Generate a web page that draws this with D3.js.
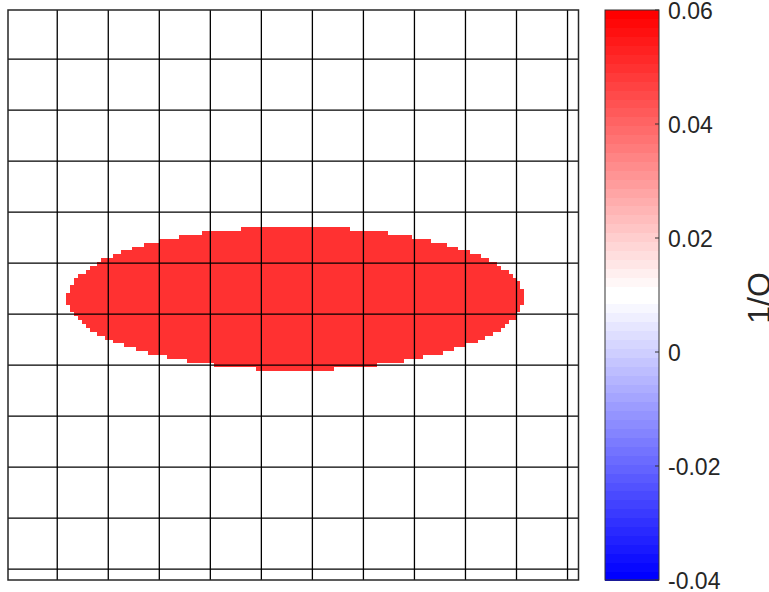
<!DOCTYPE html>
<html lang="en">
<head>
    <meta charset="UTF-8">
    <title>1/Q map</title>
    <style>
        * { margin: 0; padding: 0; box-sizing: border-box; }
        body { background: #fff; width: 769px; height: 592px; overflow: hidden; }
        svg { display: block; font-family: 'Liberation Sans', Arial, sans-serif; }
        .cb-label { fill: #262626; font-size: 23px; }
        .cb-title { fill: #262626; font-size: 32px; }
    </style>
</head>
<body>
    <div id="chart"></div>

    <script src="https://d3js.org/d3.v7.min.js"></script>
    <script>
        // axis limits and mesh lines (grid units)
        const xLimits = [0.035, 11.215];
        const yLimits = [0.035, 11.215];
        const meshX = [1, 2, 3, 4, 5, 6, 7, 8, 9, 10, 11];
        const meshY = [1, 2, 3, 4, 5, 6, 7, 8, 9, 10, 11];

        // raster resolution of the 1/Q field
        const rasterCells = 147;

        // 1/Q values: background and elliptic anomaly
        const backgroundQ = 0.01;
        const anomalyQ = 0.05;
        const anomalyCenter = [5.67, 5.69];
        const anomalyRadii = [4.47, 1.4];

        // colour bar
        const colorLimits = [-0.04, 0.06];
        const colorTicks = [-0.04, -0.02, 0, 0.02, 0.04, 0.06];
        const colorTickLabels = ["-0.04", "-0.02", "0", "0.02", "0.04", "0.06"];
        const colorLevels = 64;
        const colorTitle = "1/Q";

        const W = 769, H = 592;
        const plot = { left: 8, right: 578.5, top: 10, bottom: 580 };
        const cbar = { left: 605, right: 659, top: 10, bottom: 580 };

        const svg = d3.select("#chart").append("svg")
            .attr("width", W)
            .attr("height", H);

        const x = d3.scaleLinear().domain(xLimits).range([plot.left, plot.right]);
        const y = d3.scaleLinear().domain(yLimits).range([plot.top, plot.bottom]);

        // blue-white-red colormap, 64 levels, white in the two middle entries
        const half = colorLevels / 2;
        const cmap = d3.range(colorLevels).map(i => {
            if (i < half) {
                const s = i / (half - 1);
                return d3.rgb(255 * s, 255 * s, 255).formatHex();
            }
            const s = (i - half) / (half - 1);
            return d3.rgb(255, 255 * (1 - s), 255 * (1 - s)).formatHex();
        });
        const color = d3.scaleQuantize().domain(colorLimits).range(cmap);

        // build the field cell by cell, run-length merged per row
        const cellW = (xLimits[1] - xLimits[0]) / rasterCells;
        const cellH = (yLimits[1] - yLimits[0]) / rasterCells;
        const runs = [];
        for (let r = 0; r < rasterCells; r++) {
            const yc = yLimits[0] + (r + 0.5) * cellH;
            let start = 0, prev = null;
            for (let c = 0; c <= rasterCells; c++) {
                let v = null;
                if (c < rasterCells) {
                    const xc = xLimits[0] + (c + 0.5) * cellW;
                    const dx = (xc - anomalyCenter[0]) / anomalyRadii[0];
                    const dy = (yc - anomalyCenter[1]) / anomalyRadii[1];
                    v = dx * dx + dy * dy <= 1 ? anomalyQ : backgroundQ;
                }
                if (v !== prev) {
                    if (prev !== null) runs.push({ r, c0: start, c1: c, v: prev });
                    start = c;
                    prev = v;
                }
            }
        }

        svg.append("g")
            .attr("shape-rendering", "crispEdges")
            .selectAll("rect")
            .data(runs)
            .enter()
            .append("rect")
            .attr("x", d => x(xLimits[0] + d.c0 * cellW))
            .attr("y", d => y(yLimits[0] + d.r * cellH))
            .attr("width", d => x(xLimits[0] + d.c1 * cellW) - x(xLimits[0] + d.c0 * cellW) + 0.3)
            .attr("height", d => y(yLimits[0] + (d.r + 1) * cellH) - y(yLimits[0] + d.r * cellH) + 0.3)
            .attr("fill", d => color(d.v));

        // mesh lines
        const mesh = svg.append("g").attr("stroke", "#000").attr("stroke-width", 1.3);
        mesh.selectAll(".vx")
            .data(meshX)
            .enter()
            .append("line")
            .attr("x1", d => x(d)).attr("x2", d => x(d))
            .attr("y1", plot.top).attr("y2", plot.bottom);
        mesh.selectAll(".hy")
            .data(meshY)
            .enter()
            .append("line")
            .attr("y1", d => y(d)).attr("y2", d => y(d))
            .attr("x1", plot.left).attr("x2", plot.right);

        // axes box
        svg.append("rect")
            .attr("x", plot.left)
            .attr("y", plot.top)
            .attr("width", plot.right - plot.left)
            .attr("height", plot.bottom - plot.top)
            .attr("fill", "none")
            .attr("stroke", "#262626")
            .attr("stroke-width", 1.5);

        // colour bar
        const c = d3.scaleLinear().domain(colorLimits).range([cbar.bottom, cbar.top]);
        const step = (colorLimits[1] - colorLimits[0]) / colorLevels;
        svg.append("g")
            .attr("shape-rendering", "crispEdges")
            .selectAll("rect")
            .data(cmap)
            .enter()
            .append("rect")
            .attr("x", cbar.left)
            .attr("width", cbar.right - cbar.left)
            .attr("y", (d, i) => c(colorLimits[0] + (i + 1) * step))
            .attr("height", (d, i) => c(colorLimits[0] + i * step) - c(colorLimits[0] + (i + 1) * step) + 0.5)
            .attr("fill", d => d);

        svg.append("rect")
            .attr("x", cbar.left)
            .attr("y", cbar.top)
            .attr("width", cbar.right - cbar.left)
            .attr("height", cbar.bottom - cbar.top)
            .attr("fill", "none")
            .attr("stroke", "#333")
            .attr("stroke-width", 1);

        const cbTicks = svg.append("g");
        cbTicks.selectAll("line")
            .data(colorTicks)
            .enter()
            .append("line")
            .attr("x1", cbar.right - 4).attr("x2", cbar.right)
            .attr("y1", d => c(d)).attr("y2", d => c(d))
            .attr("stroke", "#333");
        cbTicks.selectAll("text")
            .data(colorTicks)
            .enter()
            .append("text")
            .attr("class", "cb-label")
            .attr("x", cbar.right + 9)
            .attr("y", d => c(d) + 3)
            .attr("dominant-baseline", "middle")
            .text((d, i) => colorTickLabels[i]);

        svg.append("text")
            .attr("class", "cb-title")
            .attr("transform", `translate(770, ${(cbar.top + cbar.bottom) / 2 + 3}) rotate(-90)`)
            .attr("text-anchor", "middle")
            .text(colorTitle);
    </script>
</body>
</html>
